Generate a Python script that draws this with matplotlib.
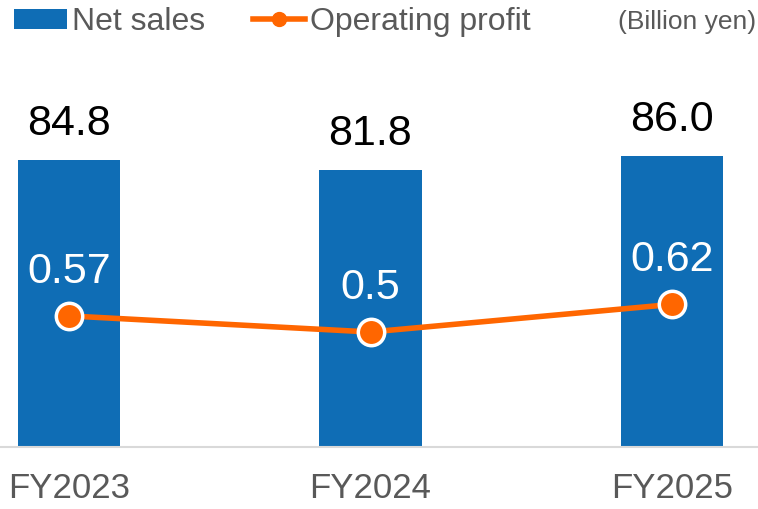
import matplotlib
matplotlib.use("Agg")
import matplotlib.pyplot as plt
from matplotlib.lines import Line2D
from matplotlib.patches import Patch

categories = ["FY2023", "FY2024", "FY2025"]
net_sales = [84.8, 81.8, 86.0]
operating_profit = [0.57, 0.5, 0.62]
net_sales_labels = ["84.8", "81.8", "86.0"]
profit_labels = ["0.57", "0.5", "0.62"]

plt.rcParams['font.family'] = ['Liberation Sans', 'DejaVu Sans']

W, H = 758, 509
fig = plt.figure(figsize=(W / 100, H / 100), dpi=100)
base_y = 447
top_y = 60
ax = fig.add_axes([0, (H - base_y) / H, 1, (base_y - top_y) / H])
ax2 = ax.twinx()

blue = "#0F6DB5"
orange = "#FF6600"
gray = "#595959"

x = list(range(len(categories)))
bars = ax.bar(x, net_sales, width=0.34, color=blue, zorder=2)
spacing = 301.5
ax.set_xlim(-69 / spacing, (W - 69) / spacing)
px_per_unit = 3.385
ax.set_ylim(0, (base_y - top_y) / px_per_unit)
ax2.set_ylim(0, (base_y - top_y) / 230.0)

for xi, v, lab in zip(x, net_sales, net_sales_labels):
    ax.text(xi, v + 7.5, lab, ha="center", va="baseline", fontsize=31, color="black")

ax2.plot(x, operating_profit, color=orange, lw=4, marker="o", markersize=19,
         markerfacecolor=orange, markeredgecolor="white", markeredgewidth=2.5, zorder=3)
for xi, v, lab in zip(x, operating_profit, profit_labels):
    ax2.text(xi, v + 0.145, lab, ha="center", va="baseline", fontsize=31, color="white")

for a in (ax, ax2):
    for s in a.spines.values():
        s.set_visible(False)
    a.set_yticks([])
ax.spines["bottom"].set_visible(True)
ax.spines["bottom"].set_color("#D9D9D9")
ax.spines["bottom"].set_linewidth(1.5)
ax.set_xticks(x)
ax.set_xticklabels(categories, fontsize=25, color=gray)
ax.tick_params(axis="x", length=0, pad=18)

handles = [Patch(facecolor=blue, edgecolor="none"),
           Line2D([0], [0], color=orange, lw=4, marker="o", markersize=10,
                  markerfacecolor=orange, markeredgecolor=orange)]
leg = fig.legend(handles, ["Net sales", "Operating profit"], loc="upper left",
                 bbox_to_anchor=(14 / W, 1 - 7 / H), ncol=2, frameon=False, fontsize=23,
                 borderpad=0, borderaxespad=0,
                 handlelength=1.65, handleheight=0.6, handletextpad=0.15,
                 columnspacing=1.5, labelcolor=gray)
fig.text(0.997, 0.957, "(Billion yen)", ha="right", va="center", fontsize=19, color=gray)

fig.savefig("out.png", dpi=100)
